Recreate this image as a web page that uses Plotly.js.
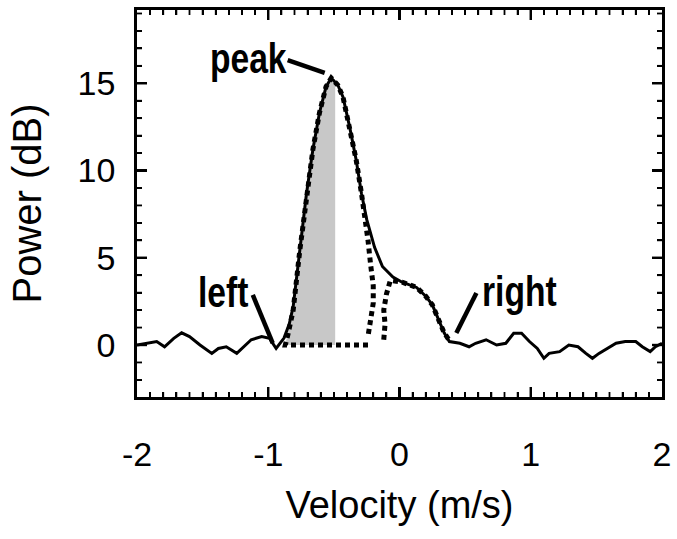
<!DOCTYPE html>
<html>
<head>
<meta charset="utf-8">
<script src="https://cdn.plot.ly/plotly-3.0.1.min.js"></script>
<style>
  html, body { margin: 0; padding: 0; background: #ffffff; }
  #chart { width: 677px; height: 539px; }
  .annotation-text { transform-box: fill-box; transform-origin: center; transform: scaleX(0.8); }
</style>
</head>
<body>
<div id="chart"></div>
<script>
// Measured spectrum (solid line)
var velocity = [-2.00, -1.93, -1.85, -1.79, -1.72, -1.66, -1.60, -1.52, -1.43, -1.38, -1.32, -1.24, -1.19, -1.13, -1.05, -0.99, -0.94, -0.88,
  -0.84, -0.81, -0.76, -0.71, -0.66, -0.61, -0.56, -0.52, -0.47, -0.43, -0.38, -0.33, -0.29, -0.25, -0.19, -0.13, -0.05,
  0.02, 0.13, 0.20, 0.25, 0.28, 0.34, 0.38, 0.46, 0.53, 0.58, 0.66, 0.74, 0.81, 0.87, 0.93, 0.99, 1.05, 1.10, 1.14, 1.22,
  1.29, 1.36, 1.42, 1.47, 1.52, 1.58, 1.65, 1.72, 1.80, 1.85, 1.91, 1.95, 2.00];
var power = [0.0, 0.1, 0.2, -0.1, 0.38, 0.7, 0.48, 0.0, -0.48, -0.2, -0.1, -0.48, -0.1, 0.3, 0.48, 0.38, -0.2, 0.4,
  1.2, 2.2, 5.4, 8.6, 11.2, 13.3, 14.8, 15.3, 14.9, 14.2, 12.5, 10.6, 8.7, 7.2, 5.6, 4.5, 3.9,
  3.6, 3.3, 2.8, 2.3, 1.8, 0.7, 0.2, 0.1, -0.1, 0.1, 0.3, 0.0, 0.1, 0.67, 0.67, 0.2, -0.2, -0.76, -0.48, -0.38,
  0.0, -0.1, -0.48, -0.76, -0.48, -0.2, 0.1, 0.2, 0.2, -0.1, -0.38, -0.1, 0.1];

// Dotted outline of the main peak component (with its zero baseline)
var fit1Velocity = [-0.24, -0.87, -0.85, -0.81, -0.76, -0.71, -0.66, -0.61, -0.56, -0.52, -0.47, -0.43, -0.38, -0.33, -0.29, -0.26, -0.24, -0.22, -0.20, -0.20, -0.22, -0.24];
var fit1Power    = [0.0, 0.0, 0.6, 2.0, 5.4, 8.6, 11.2, 13.3, 14.8, 15.3, 14.9, 14.2, 12.5, 10.6, 8.7, 7.2, 6.0, 4.6, 3.4, 2.4, 1.4, 0.5];

// Dotted second component
var fit2Velocity = [-0.12, -0.11, -0.12, -0.10, -0.07, 0.02, 0.13, 0.20, 0.25, 0.28, 0.34, 0.39];
var fit2Power    = [0.3, 1.2, 2.0, 2.9, 3.7, 3.6, 3.3, 2.8, 2.3, 1.8, 0.7, 0.15];

// Shaded region limits (left edge to peak)
var shadeStart = -0.87;
var shadeEnd = -0.49;

var xTicks = [-2, -1, 0, 1, 2];
var xTickText = ['-2', '-1', '0', '1', '2'];
var yTicks = [0, 5, 10, 15];
var yTickText = ['0', '5', '10', '15'];
var xMinorStep = 0.1;
var yMinorStep = 1;

var labels = ['peak', 'left', 'right'];

var xRange = [-2, 2];
var yRange = [-2.98, 19.2];

function interpAt(xv) {
  for (var i = 0; i < velocity.length - 1; i++) {
    if (velocity[i] <= xv && velocity[i + 1] >= xv) {
      var t = (xv - velocity[i]) / (velocity[i + 1] - velocity[i]);
      return power[i] + t * (power[i + 1] - power[i]);
    }
  }
  return 0;
}
var shadeX = [shadeStart], shadeY = [0];
for (var i = 0; i < velocity.length; i++) {
  if (velocity[i] > shadeStart && velocity[i] < shadeEnd) { shadeX.push(velocity[i]); shadeY.push(power[i]); }
}
shadeX.push(shadeEnd); shadeY.push(interpAt(shadeEnd));
shadeX.push(shadeEnd); shadeY.push(0);

var traces = [
  { x: shadeX, y: shadeY, type: 'scatter', mode: 'lines', fill: 'toself', fillcolor: '#c8c8c8', line: { width: 0 }, hoverinfo: 'skip' },
  { x: fit1Velocity, y: fit1Power, type: 'scatter', mode: 'lines', line: { color: '#000', width: 5, dash: '5px,4px' } },
  { x: fit2Velocity, y: fit2Power, type: 'scatter', mode: 'lines', line: { color: '#000', width: 5, dash: '5px,4px' } },
  { x: velocity, y: power, type: 'scatter', mode: 'lines', line: { color: '#000', width: 3 } }
];

var labelFont = { family: 'Liberation Sans, Arial, sans-serif', size: 42, color: '#000', weight: 'bold' };
var axisFont = 'Liberation Sans, Arial, Helvetica, sans-serif';

var xa = { range: xRange, tickmode: 'array', tickvals: xTicks, ticktext: xTickText,
  ticks: 'inside', ticklen: 10, tickwidth: 2.4, tickcolor: '#000', showline: true, linewidth: 2.8, linecolor: '#000', mirror: 'ticks',
  showgrid: false, zeroline: false, automargin: false,
  minor: { dtick: xMinorStep, ticks: 'inside', ticklen: 5, tickwidth: 1.8, tickcolor: '#000', showgrid: false },
  tickfont: { family: axisFont, size: 34, color: '#000' }, ticklabelstandoff: 25,
  title: { text: 'Velocity (m/s)', font: { family: axisFont, size: 38, color: '#000' }, standoff: 20 } };
var ya = { range: yRange, tickmode: 'array', tickvals: yTicks, ticktext: yTickText,
  ticks: 'inside', ticklen: 10, tickwidth: 2.4, tickcolor: '#000', showline: true, linewidth: 2.8, linecolor: '#000', mirror: 'ticks',
  showgrid: false, zeroline: false, automargin: false,
  minor: { dtick: yMinorStep, ticks: 'inside', ticklen: 5, tickwidth: 1.8, tickcolor: '#000', showgrid: false },
  tickfont: { family: axisFont, size: 34, color: '#000' }, ticklabelstandoff: 12,
  title: { text: 'Power (dB)', font: { family: axisFont, size: 40, color: '#000' }, standoff: 24 } };

// Pointer lines for the labels
var shapes = [
  { type: 'line', x0: -0.852, y0: 16.33, x1: -0.570, y1: 15.59, line: { color: '#000', width: 4.5 } },
  { type: 'line', x0: -1.118, y0: 2.87, x1: -0.966, y1: 0.11, line: { color: '#000', width: 4.5 } },
  { type: 'line', x0: 0.586, y0: 2.98, x1: 0.433, y1: 0.69, line: { color: '#000', width: 4.5 } }
];

// Inward tick marks on all four sides, placed through the axes' own scales (pixel-length shapes)
function addXTick(v, len, w) {
  shapes.push({ type: 'line', xref: 'x', yref: 'paper', ysizemode: 'pixel', yanchor: 0, x0: v, x1: v, y0: 0, y1: len, line: { color: '#000', width: w } });
  shapes.push({ type: 'line', xref: 'x', yref: 'paper', ysizemode: 'pixel', yanchor: 1, x0: v, x1: v, y0: 0, y1: -len, line: { color: '#000', width: w } });
}
function addYTick(v, len, w) {
  shapes.push({ type: 'line', xref: 'paper', yref: 'y', xsizemode: 'pixel', xanchor: 0, y0: v, y1: v, x0: 0, x1: len, line: { color: '#000', width: w } });
  shapes.push({ type: 'line', xref: 'paper', yref: 'y', xsizemode: 'pixel', xanchor: 1, y0: v, y1: v, x0: 0, x1: -len, line: { color: '#000', width: w } });
}
var kxMin = Math.round(xRange[0] / xMinorStep) + 1, kxMax = Math.round(xRange[1] / xMinorStep) - 1;
for (var kx = kxMin; kx <= kxMax; kx++) {
  var xv = Math.round(kx * xMinorStep * 10) / 10;
  if (xTicks.indexOf(xv) >= 0) addXTick(xv, 10, 2.4); else addXTick(xv, 5, 1.8);
}
for (var ky = Math.ceil(yRange[0] / yMinorStep); ky <= Math.floor(yRange[1] / yMinorStep); ky++) {
  var yv = ky * yMinorStep;
  if (yTicks.indexOf(yv) >= 0) addYTick(yv, 10, 2.4); else addYTick(yv, 5, 1.8);
}

var layout = {
  width: 677, height: 539, margin: { l: 137, r: 15, t: 10, b: 142 },
  paper_bgcolor: '#ffffff', plot_bgcolor: '#ffffff', showlegend: false,
  xaxis: xa, yaxis: ya,
  annotations: [
    { x: -1.15, y: 16.45, text: labels[0], showarrow: false, font: labelFont },
    { x: -1.342, y: 3.05, text: labels[1], showarrow: false, font: labelFont },
    { x: 0.913, y: 3.1, text: labels[2], showarrow: false, font: labelFont }
  ],
  shapes: shapes
};

Plotly.newPlot('chart', traces, layout, { displayModeBar: false, staticPlot: true });
</script>
</body>
</html>
